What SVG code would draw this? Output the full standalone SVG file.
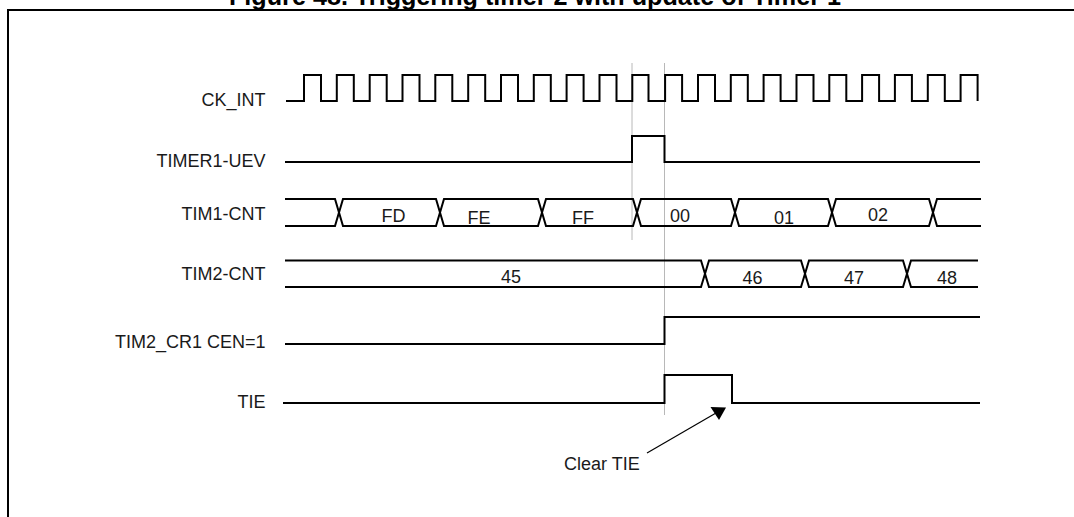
<svg xmlns="http://www.w3.org/2000/svg" width="1074" height="517" viewBox="0 0 1074 517">
<style>
.lbl{font-family:"Liberation Sans",Arial,sans-serif;font-size:18px;fill:#1a1a1a}
.r{text-anchor:end}
.m{text-anchor:middle}
.sig{fill:none;stroke:#000;stroke-width:2;stroke-linejoin:miter}
.guide{stroke:#b8b8b8;stroke-width:1;fill:none}
.frame{fill:none;stroke:#000;stroke-width:2}
.title{font-family:"Liberation Sans",Arial,sans-serif;font-size:25px;font-weight:bold;fill:#000;text-anchor:middle}
</style>
<rect width="1074" height="517" fill="#fff"/>
<text class="title" x="535" y="4.5" textLength="612" lengthAdjust="spacingAndGlyphs">Figure 48. Triggering timer 2 with update of Timer 1</text>
<path class="frame" d="M8,517 V10 H1074"/>
<g id="guides">
<line class="guide" x1="632" y1="63" x2="632" y2="240"/>
<line class="guide" x1="664.5" y1="63" x2="664.5" y2="415"/>
</g>
<g id="ck_int">
<text class="lbl r" x="265.5" y="106">CK_INT</text>
<path class="sig" d="M286,101 H304 V75 H321 V101 H336.8 V75 H353.8 V101 H369.7 V75 H386.7 V101 H402.5 V75 H419.5 V101 H435.3 V75 H452.3 V101 H468.2 V75 H485.2 V101 H501 V75 H518 V101 H533.8 V75 H550.8 V101 H566.6 V75 H583.6 V101 H599.5 V75 H616.5 V101 H632.3 V75 H648.5 V101 H665.1 V75 H682.1 V101 H698 V75 H715 V101 H730.8 V75 H747.8 V101 H763.6 V75 H780.6 V101 H796.5 V75 H813.5 V101 H829.3 V75 H846.3 V101 H862.1 V75 H879.1 V101 H894.9 V75 H911.9 V101 H927.8 V75 H944.8 V101 H960.6 V75 H977.6 V101"/>
</g>
<g id="timer1_uev">
<text class="lbl r" x="265.5" y="167">TIMER1-UEV</text>
<path class="sig" d="M285,162 H632 V136 H664.5 V162 H980"/>
</g>
<g id="tim1_cnt">
<text class="lbl r" x="265.5" y="220">TIM1-CNT</text>
<path class="sig" d="M285,199 H335 L343,226 H436 L444,199 H538 L546,226 H633 L641,199 H731 L739,226 H828 L836,199 H929 L937,226 H981"/>
<path class="sig" d="M285,226 H335 L343,199 H436 L444,226 H538 L546,199 H633 L641,226 H731 L739,199 H828 L836,226 H929 L937,199 H981"/>
<text class="lbl m" x="393.5" y="221.5">FD</text>
<text class="lbl m" x="479" y="224">FE</text>
<text class="lbl m" x="583" y="224">FF</text>
<text class="lbl m" x="680" y="221.5">00</text>
<text class="lbl m" x="784" y="223.5">01</text>
<text class="lbl m" x="878" y="221">02</text>
</g>
<g id="tim2_cnt">
<text class="lbl r" x="265.5" y="280">TIM2-CNT</text>
<path class="sig" d="M285,260.5 H701 L709,287 H801 L809,260.5 H903 L911,287 H978"/>
<path class="sig" d="M285,287 H701 L709,260.5 H801 L809,287 H903 L911,260.5 H978"/>
<text class="lbl m" x="511" y="282.5">45</text>
<text class="lbl m" x="752.5" y="283.5">46</text>
<text class="lbl m" x="854" y="283.5">47</text>
<text class="lbl m" x="947" y="283.5">48</text>
</g>
<g id="tim2_cr1_cen">
<text class="lbl r" x="265.5" y="348">TIM2_CR1 CEN=1</text>
<path class="sig" d="M285,344 H664.5 V317 H980"/>
</g>
<g id="tie">
<text class="lbl r" x="265.5" y="408">TIE</text>
<path class="sig" d="M283,403 H664.5 V375 H732 V403 H980"/>
</g>
<g id="clear_tie">
<text class="lbl" x="564" y="470">Clear TIE</text>
</g>
<g id="connectors">
<line x1="647" y1="453" x2="716" y2="413" stroke="#000" stroke-width="1.2"/>
<polygon points="710.5,407 726,407.5 719,420" fill="#000"/>
</g>
</svg>
